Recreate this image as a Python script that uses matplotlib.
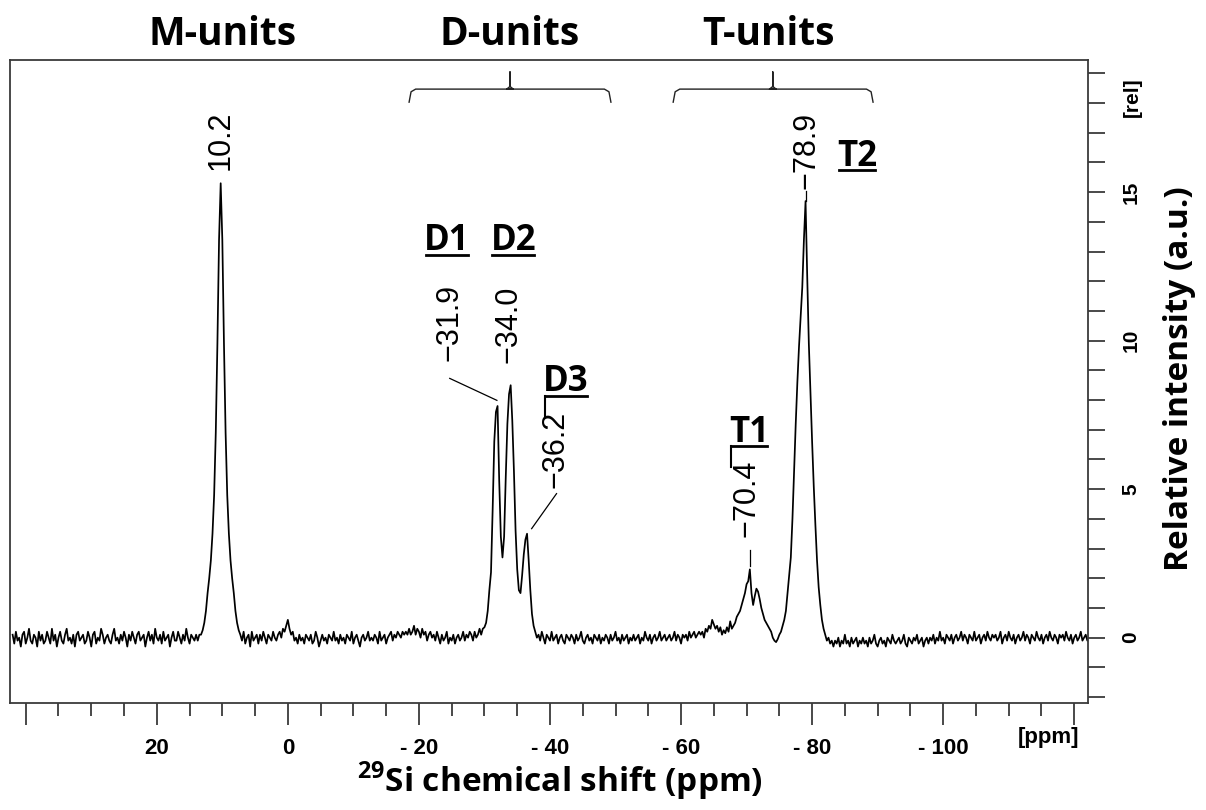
import matplotlib
matplotlib.use('Agg')
import matplotlib.pyplot as plt
import matplotlib.transforms as mtransforms
from matplotlib.lines import Line2D
from matplotlib.ticker import FixedLocator, MultipleLocator
import numpy as np

plt.rcParams['mathtext.fontset'] = 'custom'
plt.rcParams['mathtext.rm'] = 'Open Sans:bold'
plt.rcParams['mathtext.bf'] = 'Open Sans:bold'

# ---- spectrum: 0.25 ppm steps starting at 42 ppm ----
start_ppm = 42.0
step_ppm = 0.25
intensity = [
    0.1, -0.2, 0.2, -0.1, 0.0, -0.3, 0.1, 0.2, -0.2, 0.0,      # 42.0
    0.3, -0.1, -0.2, 0.1, 0.0, -0.3, 0.2, -0.1, 0.1, -0.2,     # 39.5
    -0.1, 0.2, 0.0, -0.2, 0.3, -0.1, 0.1, -0.3, 0.0, 0.2,      # 37.0
    -0.1, -0.2, 0.1, 0.3, -0.1, 0.0, -0.2, 0.1, -0.3, 0.1,     # 34.5
    0.2, -0.1, 0.0, 0.1, -0.2, -0.1, 0.2, 0.0, -0.3, 0.1,      # 32.0
    0.2, -0.2, 0.0, -0.1, 0.3, 0.1, -0.2, 0.0, 0.1, -0.1,      # 29.5
    -0.2, 0.1, 0.3, -0.1, 0.0, -0.2, 0.1, -0.1, 0.2, 0.0,      # 27.0
    -0.3, 0.1, -0.1, 0.2, 0.0, -0.2, 0.1, 0.2, -0.1, 0.0,      # 24.5
    0.1, -0.3, 0.0, 0.2, -0.1, 0.1, -0.2, 0.3, 0.0, -0.1,      # 22.0
    0.1, -0.2, 0.2, -0.1, 0.0, 0.1, -0.3, 0.0, 0.2, -0.1,      # 19.5
    -0.1, 0.2, 0.0, -0.2, 0.1, -0.1, 0.3, 0.0, -0.2, 0.1,      # 17.0
    0.0, -0.1, 0.1, -0.1, 0.1, 0.1, 0.25, 0.5, 0.9, 1.5,       # 14.5
    2.0, 2.6, 3.5, 4.8, 6.9, 9.9, 13.4, 15.3, 13.4, 9.9,       # 12.0  M
    6.9, 4.8, 3.5, 2.6, 2.0, 1.5, 0.9, 0.5, 0.25, 0.1,         # 9.5
    -0.1, 0.2, -0.2, 0.0, 0.1, -0.3, 0.2, -0.1, 0.0, 0.1,      # 7.0
    -0.2, 0.1, -0.1, 0.2, 0.0, -0.2, 0.1, 0.0, -0.1, 0.2,      # 4.5
    0.0, -0.1, 0.1, 0.2, 0.0, 0.3, 0.2, 0.4, 0.6, 0.3,         # 2.0
    0.1, 0.2, -0.1, 0.0, -0.2, 0.1, -0.1, 0.0, -0.2, 0.1,      # -0.5
    0.0, -0.1, 0.1, -0.2, -0.1, 0.2, 0.0, -0.3, -0.1, 0.1,     # -3.0
    -0.1, 0.0, -0.2, 0.1, 0.0, -0.1, 0.2, -0.1, 0.0, -0.2,     # -5.5
    0.1, -0.1, 0.0, -0.2, 0.1, 0.0, -0.1, 0.2, -0.2, 0.0,      # -8.0
    0.1, -0.1, -0.3, 0.0, 0.1, -0.1, 0.0, 0.2, -0.1, 0.0,      # -10.5
    -0.1, 0.1, 0.0, -0.2, 0.2, -0.1, 0.0, 0.1, -0.2, 0.0,      # -13.0
    0.1, 0.2, -0.1, 0.1, 0.0, 0.2, 0.1, 0.0, 0.2, 0.1,         # -15.5
    0.2, 0.1, 0.3, 0.1, 0.2, 0.4, 0.1, 0.3, 0.2, 0.0,          # -18.0
    0.3, 0.1, 0.2, -0.1, 0.1, 0.2, 0.0, 0.1, -0.1, 0.2,        # -20.5
    0.0, -0.2, 0.1, -0.1, 0.0, 0.2, -0.2, 0.0, -0.1, 0.1,      # -23.0
    -0.2, 0.0, 0.1, -0.1, 0.0, 0.2, -0.1, 0.1, 0.0, 0.2,       # -25.5
    0.1, -0.1, 0.2, 0.0, 0.1, 0.3, 0.1, 0.3, 0.35, 0.5,        # -28.0
    0.9, 1.6, 2.2, 4.3, 6.6, 7.6, 7.8, 5.3, 3.4, 2.7,          # -30.5  D1
    3.4, 5.4, 7.2, 8.2, 8.5, 7.3, 5.6, 3.6, 2.3, 1.6,          # -33.0  D2
    1.5, 2.1, 2.8, 3.3, 3.5, 2.6, 1.6, 0.8, 0.4, 0.2,          # -35.5  D3
    0.0, 0.1, -0.1, 0.2, 0.0, -0.2, 0.1, 0.0, -0.1, 0.2,       # -38.0
    -0.1, 0.0, 0.1, -0.2, 0.0, 0.1, -0.1, -0.2, 0.1, 0.0,      # -40.5
    -0.1, 0.1, 0.0, -0.2, 0.1, -0.1, 0.0, 0.2, -0.1, -0.2,     # -43.0
    0.0, 0.1, -0.1, 0.0, -0.2, 0.1, 0.0, -0.1, 0.1, -0.2,      # -45.5
    0.0, -0.1, 0.1, 0.0, -0.2, 0.1, -0.1, 0.0, 0.2, -0.1,      # -48.0
    0.0, -0.2, 0.1, -0.1, 0.0, 0.1, -0.2, 0.0, -0.1, 0.1,      # -50.5
    -0.1, 0.0, 0.1, -0.2, 0.0, -0.1, 0.2, 0.0, -0.1, 0.1,      # -53.0
    -0.2, 0.0, 0.1, -0.1, 0.0, 0.2, -0.1, 0.0, 0.1, -0.1,      # -55.5
    0.0, 0.1, -0.1, 0.0, 0.2, -0.1, 0.1, 0.0, -0.2, 0.1,       # -58.0
    0.0, 0.1, -0.1, 0.2, 0.0, 0.1, 0.2, 0.0, 0.1, 0.2,         # -60.5
    0.1, 0.2, 0.0, 0.3, 0.2, 0.4, 0.3, 0.6, 0.45, 0.3,         # -63.0
    0.4, 0.2, 0.35, 0.1, 0.25, 0.15, 0.35, 0.2, 0.55, 0.3,     # -65.5
    0.4, 0.5, 0.7, 0.8, 0.9, 1.1, 1.3, 1.5, 1.8, 1.9,          # -68.0
    2.3, 1.5, 1.1, 1.4, 1.65, 1.55, 1.3, 1.0, 0.8, 0.6,        # -70.5  T1
    0.5, 0.4, 0.3, 0.2, 0.0, -0.1, -0.15, -0.05, 0.1, 0.2,     # -73.0
    0.4, 0.6, 0.9, 1.5, 2.1, 2.7, 4.0, 5.6, 7.2, 8.6,          # -75.5
    9.8, 10.8, 11.8, 13.4, 14.7, 12.2, 9.9, 8.2, 6.6, 5.1,     # -78.0  T2
    3.8, 2.6, 1.7, 1.1, 0.6, 0.3, 0.1, -0.1, 0.0, -0.2,        # -80.5
    -0.1, -0.3, -0.1, -0.2, 0.0, -0.3, -0.1, -0.2, 0.1, -0.2,  # -83.0
    -0.1, -0.3, 0.0, -0.2, -0.1, 0.0, -0.3, -0.1, -0.2, 0.0,   # -85.5
    -0.2, -0.1, -0.3, 0.0, -0.2, -0.1, 0.1, -0.2, -0.3, -0.1,  # -88.0
    0.0, -0.2, -0.1, -0.3, 0.0, -0.1, -0.2, 0.1, -0.1, -0.2,   # -90.5
    -0.1, 0.0, -0.2, -0.1, 0.1, -0.2, -0.3, 0.0, -0.1, -0.2,   # -93.0
    0.0, -0.1, 0.1, -0.2, -0.1, 0.0, -0.3, -0.1, 0.0, -0.2,    # -95.5
    0.0, -0.1, 0.1, -0.2, 0.0, -0.1, 0.2, -0.1, 0.0, -0.2,     # -98.0
    0.1, 0.0, -0.1, 0.1, -0.2, 0.0, 0.1, -0.1, 0.0, 0.2,       # -100.5
    -0.1, 0.1, 0.0, -0.2, 0.1, 0.0, -0.1, 0.2, -0.1, 0.0,      # -103.0
    0.1, -0.2, 0.0, 0.1, -0.1, 0.2, 0.0, -0.1, 0.1, 0.0,       # -105.5
    0.1, -0.1, 0.0, 0.2, -0.2, 0.0, 0.1, -0.1, 0.2, 0.0,       # -108.0
    -0.1, 0.1, -0.2, 0.0, 0.1, -0.1, 0.0, 0.2, -0.1, 0.1,      # -110.5
    0.0, -0.2, 0.1, 0.0, -0.1, 0.2, 0.0, -0.1, 0.1, -0.2,      # -113.0
    0.0, 0.1, -0.1, 0.2, 0.0, -0.1, 0.1, 0.0, -0.2, 0.1,       # -115.5
    0.0, 0.1, -0.1, 0.2, 0.0, -0.1, 0.1, -0.2, 0.0, 0.1,       # -118.0
    -0.1, 0.0, 0.2, -0.1, 0.0, 0.1, -0.1, 0.0, 0.1,            # -120.5
]
shift = start_ppm - step_ppm * np.arange(len(intensity))

# peak shift labels
peak_labels = ['10.2', '\u221231.9', '\u221234.0', '\u221236.2', '\u221270.4', '\u221278.9']
site_labels = ['D1', 'D2', 'D3', 'T1', 'T2']
unit_labels = ['M-units', 'D-units', 'T-units']
x_tick_values = [40, 20, 0, -20, -40, -60, -80, -100, -120]
x_tick_labels = ['', '20', '0', '- 20', '- 40', '- 60', '- 80', '- 100', '']
y_tick_values = [0, 5, 10, 15]
y_tick_labels = ['0', '5', '10', '15']

ANNOT_FONT = 'Open Sans'
TICK_FONT = 'Liberation Sans'
FRAME = '#3a3a3a'

fig = plt.figure(figsize=(12.06, 8.1), dpi=100)
ax = fig.add_axes([10 / 1206, 1 - 703 / 810, 1078 / 1206, 643 / 810])

ax.plot(shift, intensity, color='black', lw=1.25)
ax.set_xlim(42.4, -122.1)
ax.set_ylim(-2.2, 19.45)

for sp in ax.spines.values():
    sp.set_color(FRAME)
    sp.set_linewidth(1.3)

# x axis (bottom, ticks pointing out)
ax.xaxis.set_major_locator(FixedLocator(x_tick_values))
ax.xaxis.set_minor_locator(MultipleLocator(5))
ax.set_xticklabels(x_tick_labels, fontfamily=TICK_FONT, fontweight='bold')
ax.tick_params(axis='x', which='major', direction='out', length=16, width=1.3,
               color=FRAME, pad=9, labelsize=16)
ax.tick_params(axis='x', which='minor', direction='out', length=9, width=1.3, color=FRAME)

# y axis on the right
ax.yaxis.tick_right()
ax.yaxis.set_major_locator(FixedLocator(y_tick_values))
ax.yaxis.set_minor_locator(MultipleLocator(1))
ax.set_yticklabels(y_tick_labels, fontfamily=TICK_FONT, fontweight='bold')
ax.tick_params(axis='y', which='both', direction='out', length=12, width=1.3,
               color=FRAME, pad=12, labelsize=15, labelrotation=90)
for lab in ax.get_yticklabels():
    lab.set_va('center')

xdata_yaxes = mtransforms.blended_transform_factory(ax.transData, ax.transAxes)
yaxes_ydata = mtransforms.blended_transform_factory(ax.transAxes, ax.transData)
ax.text(-116, -0.037, '[ppm]', transform=xdata_yaxes, ha='center', va='top',
        fontsize=16, fontweight='bold', fontfamily=TICK_FONT)
ax.text(1.041, 18.2, '[rel]', transform=yaxes_ydata, ha='center', va='center',
        rotation=90, fontsize=15, fontweight='bold', fontfamily=TICK_FONT)

# shift labels, rotated, with leader lines
label_pos = [(10.3, 15.75), (-24.7, 9.3), (-33.6, 9.25), (-40.9, 5.05),
             (-70.0, 3.4), (-79.1, 15.1)]
for txt, (lx, ly) in zip(peak_labels, label_pos):
    ax.text(lx, ly, txt, rotation=90, ha='center', va='bottom',
            fontsize=22, fontfamily=TICK_FONT)
leaders = [((-24.7, 8.73), (-31.9, 7.99)),
           ((-41.0, 4.85), (-37.2, 3.67)),
           ((-70.5, 2.95), (-70.5, 2.4)),
           ((-79.0, 15.05), (-79.0, 14.7))]
for (x0, y0), (x1, y1) in leaders:
    ax.plot([x0, x1], [y0, y1], color='black', lw=0.9)

# site names (bold, underlined)
site_pos = [(-24.3, 13.35), (-34.4, 13.35), (-42.4, 8.6), (-70.4, 6.9), (-86.9, 16.2)]
site_bar = [False, False, True, True, False]
site_texts = []
for txt, (sx, sy) in zip(site_labels, site_pos):
    t = ax.text(sx, sy, txt, ha='center', va='center', fontsize=25,
                fontweight='bold', fontfamily=ANNOT_FONT)
    site_texts.append(t)

# group headers above the frame
xdata_yfig = mtransforms.blended_transform_factory(ax.transData, fig.transFigure)
unit_x = [9.9, -33.9, -73.3]
for txt, ux in zip(unit_labels, unit_x):
    ax.text(ux, 0.957, txt, transform=xdata_yfig, ha='center', va='center',
            fontsize=28, fontweight='bold', fontfamily=ANNOT_FONT)

# brackets spanning the D and T regions
brackets = [(-18.5, -49.3, -33.9), (-58.8, -89.3, -74.0)]
for left, right, tip in brackets:
    bx = [left, left - 0.3, left - 1.0, tip - 0.5, tip, tip, tip, tip + 0.5,
          right + 1.0, right + 0.3, right]
    by = [18.03, 18.38, 18.47, 18.47, 18.56, 19.05, 18.56, 18.47,
          18.47, 18.38, 18.03]
    ax.plot(bx, by, color='#222222', lw=1.0)

ax.text(0.978, 0.533, 'Relative intensity (a.u.)', transform=fig.transFigure,
        rotation=90, ha='center', va='center', fontsize=24, fontweight='bold',
        fontfamily=ANNOT_FONT)
fig.text(0.464, 0.035, r'$^{29}$Si chemical shift (ppm)', ha='center', va='center',
         fontsize=24, fontweight='bold', fontfamily=ANNOT_FONT)

# underlines need the rendered text extents
fig.canvas.draw()
renderer = fig.canvas.get_renderer()
inv = fig.transFigure.inverted()
for t, bar in zip(site_texts, site_bar):
    bb = t.get_window_extent(renderer)
    yl = bb.y0 + 0.12 * bb.height
    p0 = inv.transform((bb.x0 + 2, yl))
    p1 = inv.transform((bb.x1 - 2, yl))
    fig.add_artist(Line2D([p0[0], p1[0]], [p0[1], p1[1]], transform=fig.transFigure,
                          color='black', lw=2.0))
    if bar:
        p2 = inv.transform((bb.x0 + 2, yl - 21))
        fig.add_artist(Line2D([p0[0], p2[0]], [p0[1], p2[1]], transform=fig.transFigure,
                              color='black', lw=1.5))

fig.savefig('out.png', dpi=100)
